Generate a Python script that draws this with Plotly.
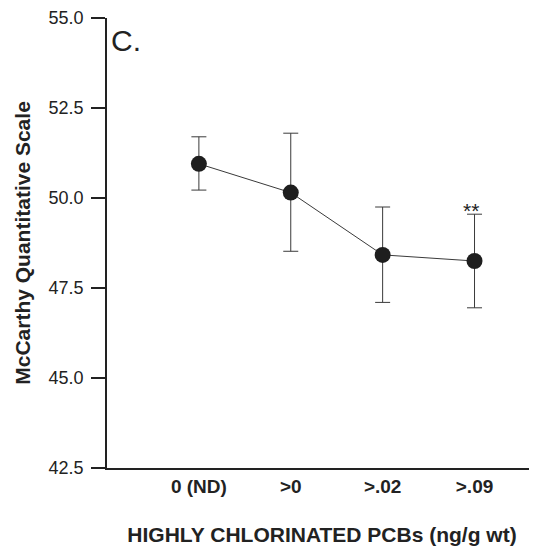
import plotly.graph_objects as go

categories = ["0 (ND)", ">0", ">.02", ">.09"]
means = [50.95, 50.15, 48.42, 48.25]
upper = [51.7, 51.8, 49.75, 49.55]
lower = [50.22, 48.52, 47.1, 46.95]
yticks = [42.5, 45.0, 47.5, 50.0, 52.5, 55.0]

xpos = list(range(len(categories)))
err_plus = [u - m for u, m in zip(upper, means)]
err_minus = [m - l for m, l in zip(means, lower)]

FONT = "Liberation Sans, Arial"

fig = go.Figure()
fig.add_trace(go.Scatter(
    x=xpos, y=means, mode="lines+markers",
    line=dict(color="#3a3a3a", width=1),
    marker=dict(size=16, color="#1e1e1e"),
    error_y=dict(type="data", symmetric=False, array=err_plus, arrayminus=err_minus,
                 color="#3a3a3a", thickness=1, width=7.5),
    showlegend=False,
))

fig.add_annotation(x=3, y=upper[3], text="**", showarrow=False, xshift=-4, yshift=4,
                   font=dict(family=FONT, size=21, color="#222"))
fig.add_annotation(x=0, y=1, xref="paper", yref="paper", text="C.", showarrow=False,
                   xanchor="left", yanchor="top", xshift=2, yshift=-4,
                   font=dict(family=FONT, size=30, color="#222"))

fig.update_layout(
    width=529, height=544,
    margin=dict(l=99, r=0, t=8, b=84),
    paper_bgcolor="white", plot_bgcolor="white",
    font=dict(family=FONT, color="#222"),
)
fig.update_xaxes(
    range=[-1.0, 3.68], tickvals=xpos, ticktext=categories,
    showgrid=False, zeroline=False, showline=True, linecolor="#222", linewidth=2,
    ticks="", tickfont=dict(size=19, family=FONT, weight="bold"),
    title=dict(text="<b>HIGHLY CHLORINATED PCBs (ng/g wt)</b>", standoff=32,
               font=dict(size=21, family=FONT)),
)
fig.update_yaxes(
    range=[42.5, 55.0], tickvals=yticks, ticktext=[f"{v:.1f}" for v in yticks],
    showgrid=False, zeroline=False, showline=True, linecolor="#222", linewidth=1.5,
    ticks="outside", ticklen=14, tickcolor="#222", tickwidth=1.5,
    ticklabelstandoff=4, ticklabeloverflow="allow",
    tickfont=dict(size=18, family=FONT),
    title=dict(text="<b>McCarthy Quantitative Scale</b>", standoff=12,
               font=dict(size=21, family=FONT)),
)

fig.write_html("out.html")
